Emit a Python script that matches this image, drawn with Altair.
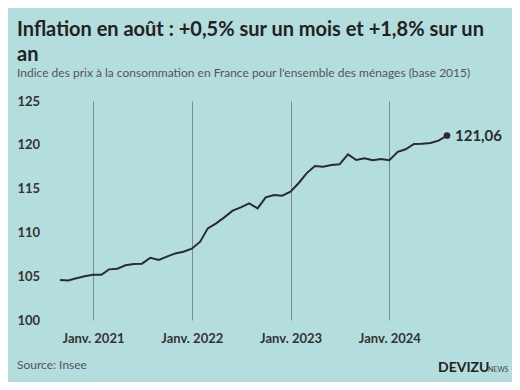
import altair as alt
import pandas as pd

months = pd.date_range("2020-09-01", "2024-08-01", freq="MS").strftime("%Y-%m-%d").tolist()
values = [
    104.57, 104.50, 104.76, 105.00, 105.17, 105.17, 105.78, 105.85, 106.24, 106.39, 106.43, 107.11,
    106.85, 107.23, 107.60, 107.80, 108.14, 108.94, 110.46, 111.03, 111.72, 112.48, 112.86, 113.32,
    112.75, 114.00, 114.27, 114.19, 114.65, 115.67, 116.74, 117.58, 117.50, 117.69, 117.77, 118.90,
    118.26, 118.45, 118.23, 118.38, 118.23, 119.20, 119.49, 120.10, 120.13, 120.20, 120.47, 121.06,
]
y_ticks = [100, 105, 110, 115, 120, 125]
x_ticks = ["2021-01-01", "2022-01-01", "2023-01-01", "2024-01-01"]
last_label = "121,06"

df = pd.DataFrame({"date": months, "value": values})
last = df.tail(1).assign(label=last_label)

BG = "#b4dddd"
FONT = "Lato"

x_enc = alt.X(
    "date:T",
    scale=alt.Scale(domain=[months[0], months[-1]], nice=False),
    axis=alt.Axis(
        values=[pd.Timestamp(d).isoformat() for d in x_ticks],
        labelExpr="'Janv. ' + timeFormat(datum.value, '%Y')",
        grid=True, gridColor="#7d8b8b", gridWidth=1,
        ticks=False, domain=False, title=None,
        labelFont=FONT, labelFontWeight="bold", labelFontSize=13, labelColor="#333333",
        labelPadding=12, labelFlush=False,
    ),
)
y_enc = alt.Y(
    "value:Q",
    scale=alt.Scale(domain=[100, 125], nice=False, zero=False),
    axis=alt.Axis(
        values=y_ticks, grid=False, ticks=False, domain=False, title=None,
        labelFont=FONT, labelFontWeight="bold", labelFontSize=13, labelColor="#333333",
        labelAlign="left", labelPadding=43,
    ),
)

line = alt.Chart(df).mark_line(color="#2b2b2b", strokeWidth=2).encode(x=x_enc, y=y_enc)
pt = alt.Chart(last).mark_point(filled=True, color="#2b2b2b", size=45, opacity=1).encode(x="date:T", y="value:Q")
lbl = alt.Chart(last).mark_text(align="left", dx=8, font=FONT, fontWeight="bold", fontSize=15, color="#2b2b2b").encode(
    x="date:T", y="value:Q", text="label:N"
)

source = alt.Chart(pd.DataFrame({"t": ["Source: Insee"]})).mark_text(
    align="left", baseline="alphabetic", font=FONT, fontSize=12, color="#555555"
).encode(x=alt.value(-43), y=alt.value(268), text="t:N")
logo = alt.Chart(pd.DataFrame({"t": ["DEVIZU"]})).mark_text(
    align="left", baseline="alphabetic", font=FONT, fontSize=14, fontWeight="bold", color="#222222"
).encode(x=alt.value(378), y=alt.value(271), text="t:N")
logo2 = alt.Chart(pd.DataFrame({"t": ["NEWS"]})).mark_text(
    align="left", baseline="alphabetic", font=FONT, fontSize=7, color="#444444"
).encode(x=alt.value(428), y=alt.value(271), text="t:N")

chart = alt.layer(line, pt, lbl, source, logo, logo2).properties(
    width=387, height=219,
    background=BG,
    padding={"left": 52, "top": 93, "right": 65, "bottom": 62},
    autosize=alt.AutoSizeParams(type="none"),
    title=alt.TitleParams(
        text=["Inflation en août : +0,5% sur un mois et +1,8% sur un", "an"],
        subtitle="Indice des prix à la consommation en France pour l'ensemble des ménages (base 2015)",
        anchor="start", frame="group", dx=-43, offset=16,
        font=FONT, fontSize=20, fontWeight="bold", color="#222222", lineHeight=25,
        subtitleFont=FONT, subtitleFontSize=12, subtitleColor="#555555", subtitlePadding=3,
    ),
).configure_view(strokeWidth=0)

chart.save("out.html", embed_options={"renderer": "svg", "actions": False})
